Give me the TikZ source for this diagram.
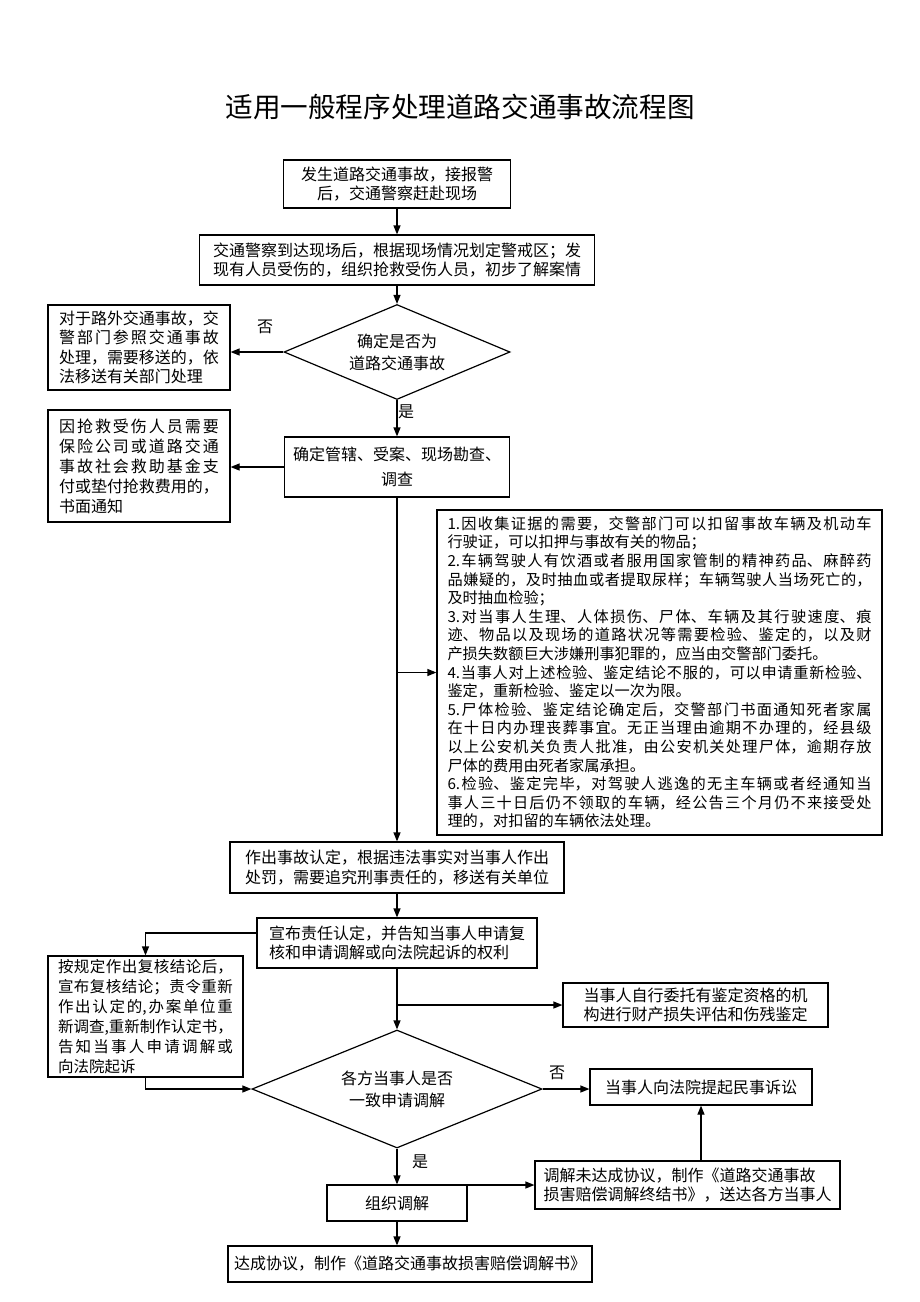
\documentclass[tikz,border=0pt]{standalone}
\usepackage{fontspec}
\newfontfamily\cjk{Noto Sans CJK SC}
\usetikzlibrary{arrows.meta,shapes.geometric}
\XeTeXlinebreaklocale "zh"
\XeTeXlinebreakskip=0pt plus 3pt
\tolerance=10000
\hbadness=10000

\begin{document}
\begin{tikzpicture}[x=1pt,y=-1pt,line width=1.2pt,>={Triangle[length=9pt,width=7pt]},
  font=\cjk\fontsize{16}{19.5}\selectfont,
  block/.style={draw,inner sep=0pt,align=center},
  note/.style={draw,inner ysep=0pt,align=justify},
  choice/.style={draw,diamond,inner sep=0pt,align=center,font=\cjk\fontsize{16}{22}\selectfont}]
  \useasboundingbox (0,0) rectangle (920,1302);
  % 标题
  \node[font=\cjk\fontsize{27.6}{30}\selectfont] (title) at (460,107) {适用一般程序处理道路交通事故流程图};
  % 主线
  \node[block,minimum width=227pt,minimum height=48pt] (occur) at (397,184) {发生道路交通事故，接报警\\后，交通警察赶赴现场};
  \node[block,minimum width=395pt,minimum height=50pt] (arrive) at (397,260) {交通警察到达现场后，根据现场情况划定警戒区；发\\现有人员受伤的，组织抢救受伤人员，初步了解案情};
  \node[choice,minimum width=226pt,minimum height=95pt,aspect=2.4] (isroad) at (397,352) {确定是否为\\道路交通事故};
  \node[block,minimum width=225pt,minimum height=60pt,font=\cjk\fontsize{16}{25}\selectfont] (jurisd) at (397,467) {确定管辖、受案、现场勘查、\\调查};
  \node[block,minimum width=334pt,minimum height=51pt] (decide) at (397,867.5) {作出事故认定，根据违法事实对当事人作出\\处罚，需要追究刑事责任的，移送有关单位};
  \node[block,minimum width=280pt,minimum height=50pt,align=left] (announce) at (397,943) {宣布责任认定，并告知当事人申请复\\核和申请调解或向法院起诉的权利};
  \node[choice,minimum width=290pt,minimum height=118pt,aspect=2.46] (consent) at (397,1089) {各方当事人是否\\一致申请调解};
  \node[block,minimum width=140pt,minimum height=36pt] (organize) at (397,1203) {组织调解};
  \node[block,minimum width=364pt,minimum height=36pt] (agree) at (410,1264) {达成协议，制作《道路交通事故损害赔偿调解书》};
  % 左侧
  \node[note,text width=160pt,inner xsep=11pt,minimum height=85pt] (offroad) at (139,347.5) {对于路外交通事故，交\linebreak 警部门参照交通事故\linebreak 处理，需要移送的，依\linebreak 法移送有关部门处理};
  \node[note,text width=160pt,inner xsep=11pt,minimum height=112pt,font=\cjk\fontsize{16}{20}\selectfont] (rescue) at (139,466) {因抢救受伤人员需要\linebreak 保险公司或道路交通\linebreak 事故社会救助基金支\linebreak 付或垫付抢救费用的，\linebreak 书面通知};
  \node[note,text width=175pt,inner xsep=10pt,minimum height=121pt,font=\cjk\fontsize{15.5}{20}\selectfont] (review) at (145.5,1016.5) {按规定作出复核结论后，\linebreak 宣布复核结论；责令重新\linebreak 作出认定的,办案单位重\linebreak 新调查,重新制作认定书，\linebreak 告知当事人申请调解或\linebreak 向法院起诉};
  % 右侧
  \node[note,text width=424pt,inner xsep=10.5pt,minimum height=325pt,font=\cjk\fontsize{15.2}{18.6}\selectfont] (detail) at (659.5,672.5) {1.因收集证据的需要，交警部门可以扣留事故车辆及机动车\linebreak 行驶证，可以扣押与事故有关的物品；\\2.车辆驾驶人有饮酒或者服用国家管制的精神药品、麻醉药\linebreak 品嫌疑的，及时抽血或者提取尿样；车辆驾驶人当场死亡的，\linebreak 及时抽血检验；\\3.对当事人生理、人体损伤、尸体、车辆及其行驶速度、痕\linebreak 迹、物品以及现场的道路状况等需要检验、鉴定的，以及财\linebreak 产损失数额巨大涉嫌刑事犯罪的，应当由交警部门委托。\\4.当事人对上述检验、鉴定结论不服的，可以申请重新检验、\linebreak 鉴定，重新检验、鉴定以一次为限。\\5.尸体检验、鉴定结论确定后，交警部门书面通知死者家属\linebreak 在十日内办理丧葬事宜。无正当理由逾期不办理的，经县级\linebreak 以上公安机关负责人批准，由公安机关处理尸体，逾期存放\linebreak 尸体的费用由死者家属承担。\\6.检验、鉴定完毕，对驾驶人逃逸的无主车辆或者经通知当\linebreak 事人三十日后仍不领取的车辆，经公告三个月仍不来接受处\linebreak 理的，对扣留的车辆依法处理。};
  \node[block,minimum width=265pt,minimum height=44pt,align=left] (entrust) at (695.5,1005) {当事人自行委托有鉴定资格的机\\构进行财产损失评估和伤残鉴定};
  \node[block,minimum width=222pt,minimum height=36pt] (lawsuit) at (701,1087) {当事人向法院提起民事诉讼};
  \node[block,minimum width=305pt,minimum height=48pt,align=left] (nodeal) at (687.5,1185) {调解未达成协议，制作《道路交通事故\\损害赔偿调解终结书》，送达各方当事人};
  % 判断标注
  \node (no1) at (265,327) {否};
  \node (yes1) at (406,412) {是};
  \node (no2) at (557,1073) {否};
  \node (yes2) at (420,1162) {是};
  % 连线
  \draw[->] (occur) -- (arrive);
  \draw[->] (arrive) -- (isroad);
  \draw[->] (isroad.west) -- (isroad.west -| offroad.east);
  \draw[->] (isroad) -- (jurisd);
  \draw[->] (jurisd.west) -- (jurisd.west -| rescue.east);
  \draw[->] (jurisd) -- (decide);
  \draw[->] (detail.west -| jurisd.south) -- (detail.west);
  \draw[->] (decide) -- (announce);
  \draw[->] ([yshift=10pt]announce.west) -| (review);
  \draw[->] (announce) -- (consent);
  \draw[->] (entrust.west -| announce.south) -- (entrust.west);
  \draw[->] (review) |- (consent);
  \draw[->] (consent.east) -- (consent.east -| lawsuit.west);
  \draw[->] (consent) -- (organize);
  \draw[->] (nodeal.west -| organize.east) -- (nodeal.west);
  \draw[->] (nodeal.north -| lawsuit.south) -- (lawsuit.south);
  \draw[->] (organize) -- (organize.south |- agree.north);
\end{tikzpicture}
\end{document}
